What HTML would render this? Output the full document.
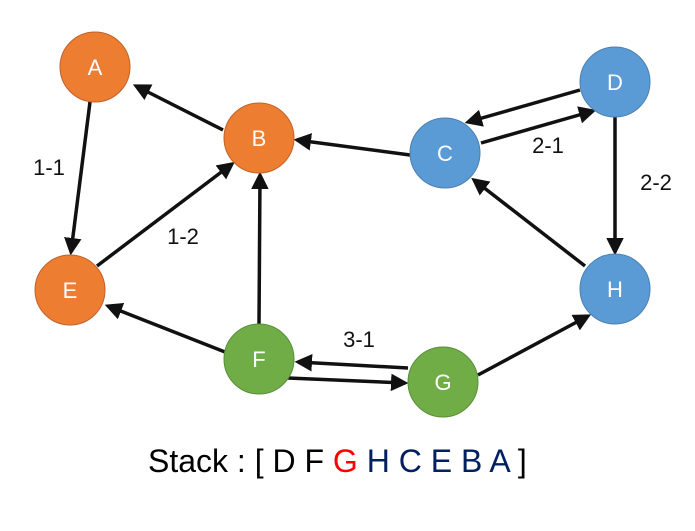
<!DOCTYPE html>
<html><head><meta charset="utf-8"><style>
body{margin:0;background:#fff;width:695px;height:526px;overflow:hidden}
text{font-family:"Liberation Sans",sans-serif}
</style></head><body>
<svg width="695" height="526" viewBox="0 0 695 526">
<defs><marker id="a" markerWidth="5" markerHeight="5" refX="4" refY="2.5" orient="auto" markerUnits="strokeWidth"><path d="M0,0 L5,2.5 L0,5 z" fill="#111"/></marker></defs>
<g stroke="#111" stroke-width="3.5" marker-end="url(#a)">
<line x1="90" y1="102" x2="71" y2="252"/>
<line x1="223" y1="130" x2="136" y2="86"/>
<line x1="97" y1="266" x2="232" y2="164"/>
<line x1="259" y1="325" x2="260" y2="175"/>
<line x1="225" y1="352" x2="108" y2="306"/>
<line x1="410" y1="155" x2="297" y2="140"/>
<line x1="580" y1="90" x2="468" y2="122"/>
<line x1="481" y1="143" x2="593" y2="111"/>
<line x1="615" y1="117" x2="615" y2="252"/>
<line x1="585" y1="266" x2="474" y2="180"/>
<line x1="408" y1="368" x2="298" y2="362"/>
<line x1="288" y1="378" x2="405" y2="383"/>
<line x1="478" y1="375" x2="588" y2="316"/>
</g>
<g stroke-width="1">
<circle cx="95" cy="67" r="35" fill="#ED7D31" stroke="#c0622a"/>
<circle cx="259" cy="138" r="35" fill="#ED7D31" stroke="#c0622a"/>
<circle cx="70" cy="290" r="35" fill="#ED7D31" stroke="#c0622a"/>
<circle cx="445" cy="153" r="35" fill="#5B9BD5" stroke="#4a80b0"/>
<circle cx="615" cy="82" r="35" fill="#5B9BD5" stroke="#4a80b0"/>
<circle cx="615" cy="289" r="35" fill="#5B9BD5" stroke="#4a80b0"/>
<circle cx="259" cy="359" r="35" fill="#70AD47" stroke="#5a8e3a"/>
<circle cx="443" cy="382" r="35" fill="#70AD47" stroke="#5a8e3a"/>
</g>
<g fill="#fff" font-size="22" text-anchor="middle">
<text x="95" y="75">A</text><text x="259" y="146">B</text><text x="70" y="298">E</text>
<text x="445" y="161">C</text><text x="615" y="90">D</text><text x="615" y="297">H</text>
<text x="259" y="367">F</text><text x="443" y="390">G</text>
</g>
<g fill="#111" font-size="22" text-anchor="middle">
<text x="49" y="175">1-1</text><text x="183" y="244">1-2</text>
<text x="548" y="153">2-1</text><text x="656" y="190">2-2</text>
<text x="359" y="347">3-1</text>
</g>
<text x="148" y="472" font-size="32" fill="#000">Stack : [ D F <tspan fill="#FF0000">G</tspan> <tspan fill="#002060">H C E B A</tspan> ]</text>
</svg>
</body></html>
